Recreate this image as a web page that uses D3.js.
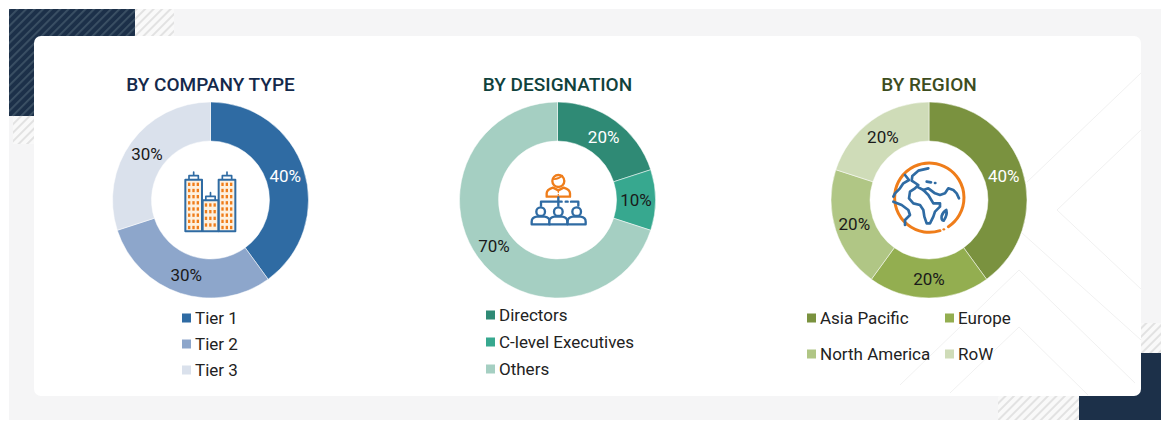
<!DOCTYPE html>
<html>
<head>
<meta charset="utf-8">
<script src="https://cdn.jsdelivr.net/npm/d3@7"></script>
<style>
html,body{margin:0;padding:0;background:#fff;}
svg{display:block;}
text{font-family:Roboto,"Liberation Sans",sans-serif;}
</style>
</head>
<body>
<svg id="chart" width="1170" height="429"></svg>
<script>
// data
var companyLabels=["Tier 1","Tier 2","Tier 3"];
var companyValues=[40,30,30];
var companyColors=["#2f6ba3","#8da6cb","#dae1ec"];
var designationLabels=["Directors","C-level Executives","Others"];
var designationValues=[20,10,70];
var designationColors=["#2f8a75","#37a88f","#a5cfc2"];
var regionLabels=["Asia Pacific","Europe","North America","RoW"];
var regionValues=[40,20,20,20];
var regionColors=["#7a923f","#93ae50","#b0c685","#cfdcb8"];

var svg=d3.select("#chart");
var defs=svg.append("defs");

// hatch patterns for the background corners
function hatch(id,bg,line,w){
    var p=defs.append("pattern").attr("id",id).attr("width",6).attr("height",6)
        .attr("patternUnits","userSpaceOnUse").attr("patternTransform","rotate(45)");
    p.append("rect").attr("width",6).attr("height",6).attr("fill",bg);
    p.append("rect").attr("width",w).attr("height",6).attr("fill",line);
}
hatch("hatchDark","#1c3049","#3c5165",1.8);
hatch("hatchLight","#f9f9f9","#e2e2e2",2);

function box(x,y,w,h,fill){
    svg.append("rect").attr("x",x).attr("y",y).attr("width",w).attr("height",h).attr("fill",fill);
}
// background
box(9,9,1152,411,"#f5f5f6");
box(9,9,126,107,"url(#hatchDark)");
box(135,9,39,27,"url(#hatchLight)");
box(13,116,21,28,"url(#hatchLight)");
box(1079,353,82,67,"#1c3049");
box(998,396,81,24,"url(#hatchLight)");
box(1141,323,20,30,"url(#hatchLight)");
svg.append("rect").attr("x",34).attr("y",36).attr("width",1107).attr("height",360).attr("rx",7).attr("fill","#fff");

// faint chevrons in the card
var chevrons=[
    "M1027,182L1141,73",
    "M1141,130L1057,210L1141,289",
    "M1022,233L1141,340",
    "M900,385L1019,270L1135,383",
    "M950,393L1019,327L1088,395"
];
svg.selectAll("path.chevron").data(chevrons).enter().append("path").attr("class","chevron")
    .attr("d",function(d){return d;}).attr("fill","none").attr("stroke","#f1f1f1").attr("stroke-width",1);

var pie=d3.pie().sort(null).value(function(d){return d;});
var arc=d3.arc().innerRadius(59).outerRadius(98);

function donut(cx,title,titleColor,values,colors,labelColors){
    var g=svg.append("g").attr("transform","translate("+cx+",200)");
    var slices=g.selectAll("g.slice").data(pie(values)).enter().append("g").attr("class","slice");
    slices.append("path").attr("d",arc).attr("stroke","#fff").attr("stroke-width",0.5)
        .attr("fill",function(d,i){return colors[i];});
    slices.append("text").attr("transform",function(d){return "translate("+arc.centroid(d)+")";})
        .attr("text-anchor","middle").attr("dy","0.36em").attr("font-size",17)
        .attr("fill",function(d,i){return labelColors[i];})
        .text(function(d){return d.value+"%";});
    svg.append("text").attr("x",cx).attr("y",90.5).attr("text-anchor","middle")
        .attr("font-size",19).attr("font-weight",500).attr("fill",titleColor).text(title);
}
donut(210.5,"BY COMPANY TYPE","#14294b",companyValues,companyColors,["#fff","#1a1a1a","#1a1a1a"]);
donut(557.5,"BY DESIGNATION","#10423c",designationValues,designationColors,["#fff","#1a1a1a","#1a1a1a"]);
donut(929,"BY REGION","#3d4d1e",regionValues,regionColors,["#fff","#1a1a1a","#1a1a1a","#1a1a1a"]);

function legendItem(x,cy,label,color){
    box(x,cy-4.5,9,9,color);
    svg.append("text").attr("x",x+13).attr("y",cy).attr("dy","0.36em")
        .attr("font-size",17).attr("fill","#222").text(label);
}
companyLabels.forEach(function(l,i){legendItem(182,318+i*26,l,companyColors[i]);});
designationLabels.forEach(function(l,i){legendItem(486,315+i*27,l,designationColors[i]);});
regionLabels.forEach(function(l,i){
    legendItem(i%2?945:807,i<2?318:354,l,regionColors[i]);
});

// center icons, drawn at 3x and scaled down
var blue="#2f6ba3",orange="#ef7d1a";
function icon(x,y){
    return svg.append("g").attr("transform","translate("+x+","+y+") scale("+(1/3)+")")
        .attr("fill","none").attr("stroke-linecap","round").attr("stroke-linejoin","round").attr("stroke-width",7);
}

// buildings
var bld=icon(178,168);
function tower(x,y,w,h,cols,rows,rowGap){
    bld.append("path").attr("d","M"+(x+w/2-14)+","+y+"V"+(y-12)+"H"+(x+w/2+14)+"V"+y+"M"+(x+w/2)+","+(y-12)+"V"+(y-23))
        .attr("stroke",blue).attr("stroke-width",5);
    bld.append("rect").attr("x",x).attr("y",y).attr("width",w).attr("height",h)
        .attr("fill","#fdf1e0").attr("stroke",blue).attr("stroke-width",6);
    for(var r=0;r<rows;r++){for(var c=0;c<cols;c++){
        bld.append("rect").attr("x",x+(w-34)/2+c*13).attr("y",y+9+r*rowGap).attr("width",7).attr("height",10)
            .attr("fill",orange).attr("stroke","none");
    }}
}
tower(22,35,50,155,3,8,18.5);
tower(122,35,50,155,3,8,18.5);
tower(74,97,47,93,3,4,20);

// people
var ppl=icon(525,165);
ppl.append("circle").attr("cx",100).attr("cy",48).attr("r",18).attr("stroke",orange);
ppl.append("path").attr("d","M83,42Q100,44 112,32").attr("stroke",orange).attr("stroke-width",5);
ppl.append("path").attr("d","M65,95V85Q65,74 84,68L100,76L116,68Q135,74 135,85V95Z").attr("stroke",orange);
ppl.append("path").attr("d","M100,78V82M100,88V90").attr("stroke",orange).attr("stroke-width",4);
ppl.append("path").attr("d","M48,122V110H110M100,97V122").attr("stroke",blue);
ppl.append("path").attr("d","M122,110H128M138,110H160V122").attr("stroke",blue);
[47,100,155].forEach(function(x){
    ppl.append("circle").attr("cx",x).attr("cy",140).attr("r",13).attr("stroke",blue);
    ppl.append("path").attr("d","M"+(x-27)+",178V170Q"+(x-27)+",157 "+(x-12)+",155H"+(x+12)+"Q"+(x+27)+",157 "+(x+27)+",170V178Z")
        .attr("stroke",blue).attr("fill","#fff");
});

// globe
var globe=icon(885,160);
globe.append("path").attr("d","M165,212A104,104 0 1 1 190,200").attr("stroke",orange).attr("stroke-width",9);
globe.append("path").attr("d","M176,208H177").attr("stroke",orange).attr("stroke-width",7);
[
    "M130,25L100,32L82,48L80,62L100,75L90,85L75,95L72,115L85,130L105,135L115,150L118,170L125,190L135,190L145,170L150,155L165,140L165,130L145,130L130,105L115,90L100,82",
    "M115,90L130,85L150,100L165,105L180,100L190,85L205,90L215,100L222,115",
    "M60,45L72,60L55,70L45,85L30,100L25,110",
    "M25,125L50,135L70,150L75,165L60,180L60,195",
    "M125,65L138,67M150,69H151",
    "M184,150Q188,165 176,182Q168,182 170,168Q174,155 184,150Z"
].forEach(function(d){
    globe.append("path").attr("d",d).attr("stroke",blue).attr("stroke-width",8);
});
</script>
</body>
</html>
